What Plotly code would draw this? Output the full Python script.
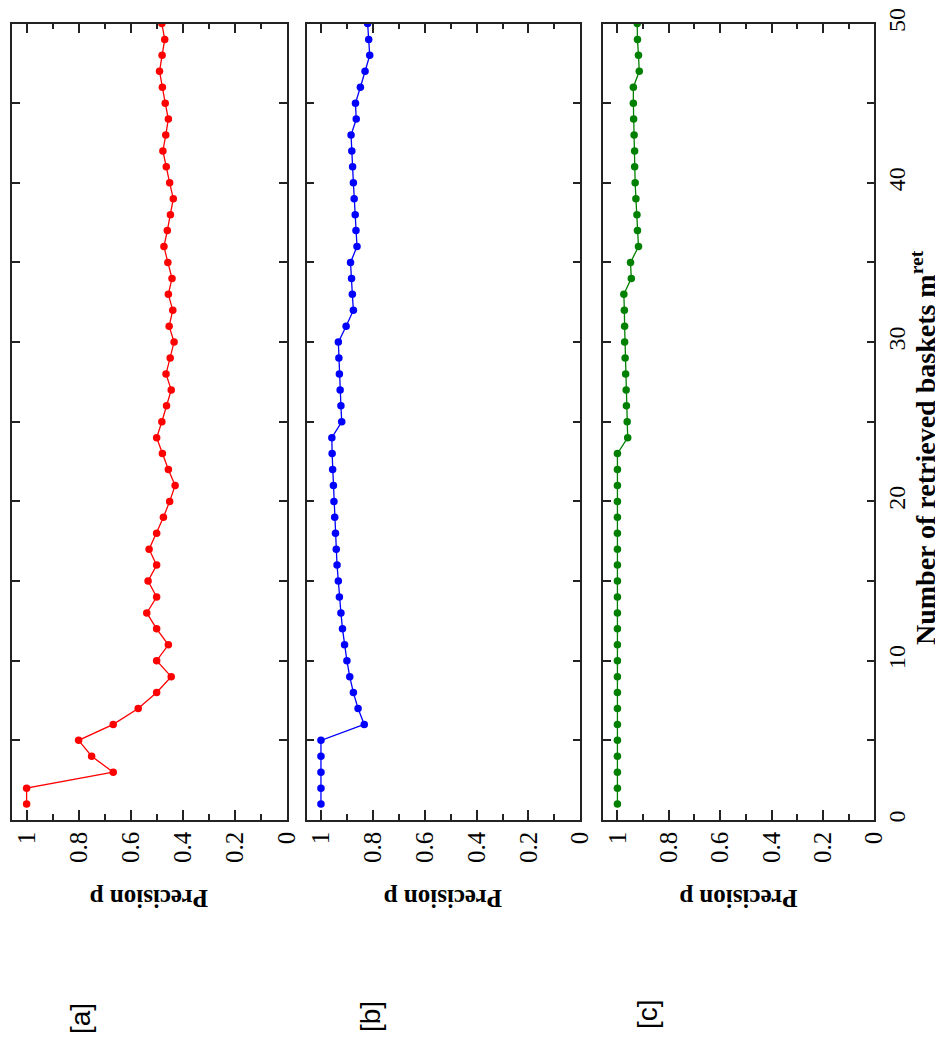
import plotly.graph_objects as go

# ---- data ----
m_values = [1, 2, 3, 4, 5, 6, 7, 8, 9, 10, 11, 12, 13, 14, 15, 16, 17, 18, 19, 20,
            21, 22, 23, 24, 25, 26, 27, 28, 29, 30, 31, 32, 33, 34, 35, 36, 37, 38, 39, 40,
            41, 42, 43, 44, 45, 46, 47, 48, 49, 50]

precision_a = [1.0, 1.0, 0.667, 0.75, 0.8, 0.667, 0.571, 0.5, 0.444, 0.5,
               0.455, 0.5, 0.538, 0.5, 0.533, 0.5, 0.529, 0.5, 0.474, 0.45,
               0.429, 0.455, 0.478, 0.5, 0.48, 0.462, 0.444, 0.464, 0.448, 0.433,
               0.452, 0.438, 0.455, 0.441, 0.457, 0.472, 0.459, 0.447, 0.436, 0.45,
               0.463, 0.476, 0.465, 0.455, 0.467, 0.478, 0.489, 0.479, 0.469, 0.48]

precision_b = [1.0, 1.0, 1.0, 1.0, 1.0, 0.833, 0.857, 0.875, 0.889, 0.9,
               0.909, 0.917, 0.923, 0.929, 0.933, 0.938, 0.941, 0.944, 0.947, 0.95,
               0.952, 0.955, 0.957, 0.958, 0.92, 0.923, 0.926, 0.929, 0.931, 0.933,
               0.903, 0.875, 0.879, 0.882, 0.886, 0.861, 0.865, 0.868, 0.872, 0.875,
               0.878, 0.881, 0.884, 0.864, 0.867, 0.848, 0.83, 0.812, 0.816, 0.82]

precision_c = [1.0, 1.0, 1.0, 1.0, 1.0, 1.0, 1.0, 1.0, 1.0, 1.0,
               1.0, 1.0, 1.0, 1.0, 1.0, 1.0, 1.0, 1.0, 1.0, 1.0,
               1.0, 1.0, 1.0, 0.96, 0.962, 0.965, 0.966, 0.968, 0.97, 0.972,
               0.972, 0.973, 0.975, 0.946, 0.949, 0.918, 0.922, 0.924, 0.928, 0.931,
               0.933, 0.933, 0.935, 0.937, 0.938, 0.938, 0.915, 0.918, 0.922, 0.923]

panel_labels = ["[a]", "[b]", "[c]"]
colors = ["#ff0000", "#0000ff", "#008000"]
p_tickvals = [0, 0.2, 0.4, 0.6, 0.8, 1]
p_ticktext = ["0", "0.2", "0.4", "0.6", "0.8", "1"]
m_tickvals = [0, 5, 10, 15, 20, 25, 30, 35, 40, 45, 50]
m_ticktext = ["0", "", "10", "", "20", "", "30", "", "40", "", "50"]
x_title = "Precision p"
y_title = "Number of retrieved baskets m<sup>ret</sup>"

# ---- layout geometry (window pixels) ----
BODY = 8                      # default page margin around the plot div
W, H = 943 - BODY, 1045 - 2 * BODY
x_dom_px = [(12.3, 286.7), (306.7, 580.3), (603.3, 874.3)]
y_dom_px = (23.5, 820)
label_px = [(80, 1019), (370, 1017), (647, 1014)]

def px_x(x):
    return (x - BODY) / W

def px_y(y):
    return 1 - (y - BODY) / H

fig = go.Figure()
series = [precision_a, precision_b, precision_c]
serif = "Liberation Serif"

layout = dict(
    width=W, height=H,
    margin=dict(l=0, r=0, t=0, b=0, autoexpand=False),
    paper_bgcolor="white", plot_bgcolor="white",
    showlegend=False,
    annotations=[],
)

for i, vals in enumerate(series):
    xa = "x" if i == 0 else f"x{i+1}"
    ya = "y" if i == 0 else f"y{i+1}"
    fig.add_trace(go.Scatter(
        x=vals, y=m_values, xaxis=xa, yaxis=ya,
        mode="lines+markers",
        line=dict(color=colors[i], width=1.3),
        marker=dict(color=colors[i], size=7.5, symbol="circle"),
    ))
    xkey = "xaxis" if i == 0 else f"xaxis{i+1}"
    ykey = "yaxis" if i == 0 else f"yaxis{i+1}"
    layout[xkey] = dict(
        domain=[px_x(x_dom_px[i][0]), px_x(x_dom_px[i][1])],
        anchor=ya,
        range=[1.055, 0],
        tickvals=p_tickvals, ticktext=p_ticktext,
        tickangle=-90,
        ticks="inside", ticklen=10, tickwidth=1.5, tickcolor="#222",
        minor=dict(tickvals=[0.1, 0.3, 0.5, 0.7, 0.9], ticks="inside",
                   ticklen=6, tickwidth=1.5, tickcolor="#222"),
        showline=True, linecolor="#222", linewidth=1.5, mirror="allticks",
        showgrid=False, zeroline=False,
        tickfont=dict(family=serif, size=25, color="black"),
        ticklabelstandoff=0,
        ticklabeloverflow="allow",
        automargin=False,
    )
    layout[ykey] = dict(
        domain=[px_y(y_dom_px[1]), px_y(y_dom_px[0])],
        anchor=xa,
        range=[0, 50],
        tickvals=m_tickvals, ticktext=m_ticktext,
        ticks="inside", ticklen=8, tickwidth=1.5, tickcolor="#222",
        showline=True, linecolor="#222", linewidth=1.5, mirror="allticks",
        showgrid=False, zeroline=False,
        showticklabels=(i == 2),
        side="right" if i == 2 else "left",
        tickangle=-90,
        tickfont=dict(family=serif, size=24, color="black"),
        ticklabelstandoff=0,
        ticklabeloverflow="allow",
        automargin=False,
    )
    cx = (x_dom_px[i][0] + x_dom_px[i][1]) / 2
    layout["annotations"].append(dict(
        text=f"<b>{x_title}</b>", xref="paper", yref="paper",
        x=px_x(cx), y=px_y(899), xanchor="center", yanchor="middle",
        textangle=180, showarrow=False,
        font=dict(family=serif, size=25, color="black"),
    ))
    layout["annotations"].append(dict(
        text=panel_labels[i], xref="paper", yref="paper",
        x=px_x(label_px[i][0]), y=px_y(label_px[i][1]),
        xanchor="center", yanchor="middle",
        textangle=-90, showarrow=False,
        font=dict(family="Liberation Sans", size=28, color="black"),
    ))

layout["annotations"].append(dict(
    text=f"<b>{y_title}</b>", xref="paper", yref="paper",
    x=px_x(923), y=px_y(448), xanchor="center", yanchor="middle",
    textangle=-90, showarrow=False,
    font=dict(family=serif, size=28, color="black"),
))

fig.update_layout(**layout)
fig.write_html("out.html")
